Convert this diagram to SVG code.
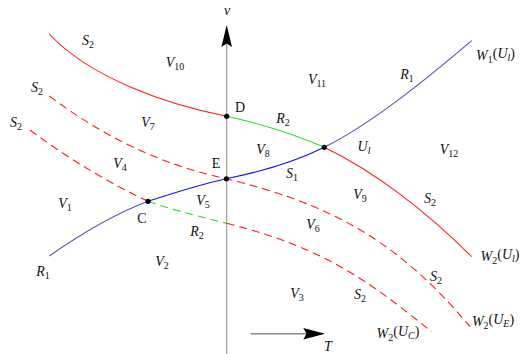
<svg xmlns="http://www.w3.org/2000/svg" width="531" height="354" viewBox="0 0 531 354">
<defs>
<style>
.ax{stroke:#8c8c8c;fill:none}
.c{fill:none;stroke-width:1.1}
.red{stroke:#ff1a1a}
.grn{stroke:#22dd22}
.blu{stroke:#1010ff}
.slate{stroke:#5252b8}
.dash{stroke-dasharray:8 5}
.pt{fill:#000}
text{font-family:"Liberation Serif","Times New Roman",serif;font-size:14px;fill:#111;text-anchor:middle}
.i{font-style:italic}
.s{font-size:10px;font-style:normal}
.si{font-size:10px;font-style:italic}
</style>
</defs>
<rect width="531" height="354" fill="#fff"/>
<g id="axes">
<line class="ax" x1="226.7" y1="42" x2="226.7" y2="354" stroke-width="1"/>
<polygon points="226.7,25 232,47 226.7,43.5 221.4,47" fill="#000"/>
<line class="ax" x1="250.7" y1="333.7" x2="308" y2="333.7" stroke-width="1.6"/>
<polygon points="325,333.7 303.3,328 306.5,333.7 303.3,339.4" fill="#000"/>
</g>
<g id="connectors">
<path class="c red" d="M49.3,34 C90,78 167,104.4 226.7,116.3"/>
<path class="c grn" d="M226.7,116.3 C261.7,124 294.3,134.3 324.3,147.3"/>
<path class="c red" d="M324.3,147.3 C374.3,171.3 426.7,211.7 471.7,256.7"/>
<path class="c slate" d="M49.3,256 C82.3,233 115,213.8 148,201.3"/>
<path class="c blu" d="M148,201.3 C174,192.8 200.3,184.4 226.3,178.7 C259.3,172.1 294.3,162.3 324.3,147.3"/>
<path class="c slate" d="M324.3,147.3 C374.3,122.3 431.7,74.7 471.7,40.7"/>
<path class="c red dash" d="M49.3,96 C109.3,141 166.3,165.7 226.3,178.7 C316.3,201.2 390,230.7 470,326.7"/>
<path class="c red dash" d="M30,130 C70,160 112.7,184.8 148,201.3"/>
<path class="c grn dash" d="M148,201.3 C174,210.4 200.7,216.8 226.7,223.3"/>
<path class="c red dash" d="M226.7,223.3 C326.7,248.3 371.7,283.7 431.7,331.7"/>
</g>
<g id="points">
<circle id="D" class="pt" cx="226.7" cy="116.3" r="2.6"/>
<circle id="E" class="pt" cx="226.4" cy="178.8" r="2.6"/>
<circle id="C" class="pt" cx="148" cy="201.3" r="2.6"/>
<circle id="Ul" class="pt" cx="324.3" cy="147.3" r="2.6"/>
</g>
<g id="labels">
<text class="i" x="227" y="15" font-size="13">v</text>
<text x="88" y="45"><tspan class="i">S</tspan><tspan class="s" dy="3">2</tspan></text>
<text x="37" y="92"><tspan class="i">S</tspan><tspan class="s" dy="3">2</tspan></text>
<text x="16" y="127"><tspan class="i">S</tspan><tspan class="s" dy="3">2</tspan></text>
<text x="175" y="67"><tspan class="i">V</tspan><tspan class="s" dy="3">10</tspan></text>
<text x="240" y="112">D</text>
<text x="148" y="127"><tspan class="i">V</tspan><tspan class="s" dy="3">7</tspan></text>
<text x="120" y="168"><tspan class="i">V</tspan><tspan class="s" dy="3">4</tspan></text>
<text x="216" y="168">E</text>
<text x="263" y="154"><tspan class="i">V</tspan><tspan class="s" dy="3">8</tspan></text>
<text x="283" y="123"><tspan class="i">R</tspan><tspan class="s" dy="3">2</tspan></text>
<text x="292" y="178"><tspan class="i">S</tspan><tspan class="s" dy="3">1</tspan></text>
<text x="203" y="205"><tspan class="i">V</tspan><tspan class="s" dy="3">5</tspan></text>
<text x="142" y="223">C</text>
<text x="197" y="236"><tspan class="i">R</tspan><tspan class="s" dy="3">2</tspan></text>
<text x="313" y="229"><tspan class="i">V</tspan><tspan class="s" dy="3">6</tspan></text>
<text x="317" y="84"><tspan class="i">V</tspan><tspan class="s" dy="3">11</tspan></text>
<text x="407" y="79"><tspan class="i">R</tspan><tspan class="s" dy="3">1</tspan></text>
<text x="495.5" y="60"><tspan class="i">W</tspan><tspan class="s" dy="3">1</tspan><tspan dy="-5">(</tspan><tspan class="i">U</tspan><tspan class="si" dy="3">l</tspan><tspan dy="-3">)</tspan></text>
<text x="364" y="151"><tspan class="i">U</tspan><tspan class="si" dy="3">l</tspan></text>
<text x="449" y="154"><tspan class="i">V</tspan><tspan class="s" dy="3">12</tspan></text>
<text x="360" y="199"><tspan class="i">V</tspan><tspan class="s" dy="3">9</tspan></text>
<text x="430" y="203"><tspan class="i">S</tspan><tspan class="s" dy="3">2</tspan></text>
<text x="65" y="208"><tspan class="i">V</tspan><tspan class="s" dy="3">1</tspan></text>
<text x="43" y="276"><tspan class="i">R</tspan><tspan class="s" dy="3">1</tspan></text>
<text x="162" y="266"><tspan class="i">V</tspan><tspan class="s" dy="3">2</tspan></text>
<text x="500" y="261"><tspan class="i">W</tspan><tspan class="s" dy="3">2</tspan><tspan dy="-5">(</tspan><tspan class="i">U</tspan><tspan class="si" dy="3">l</tspan><tspan dy="-3">)</tspan></text>
<text x="436" y="281"><tspan class="i">S</tspan><tspan class="s" dy="3">2</tspan></text>
<text x="297" y="298"><tspan class="i">V</tspan><tspan class="s" dy="3">3</tspan></text>
<text x="360" y="299"><tspan class="i">S</tspan><tspan class="s" dy="3">2</tspan></text>
<text x="493" y="326"><tspan class="i">W</tspan><tspan class="s" dy="3">2</tspan><tspan dy="-5">(</tspan><tspan class="i">U</tspan><tspan class="si" dy="3">E</tspan><tspan dy="-3">)</tspan></text>
<text x="398" y="338"><tspan class="i">W</tspan><tspan class="s" dy="3">2</tspan><tspan dy="-5">(</tspan><tspan class="i">U</tspan><tspan class="si" dy="3">C</tspan><tspan dy="-3">)</tspan></text>
<text class="i" x="328" y="351" font-size="13">T</text>
</g>
</svg>
